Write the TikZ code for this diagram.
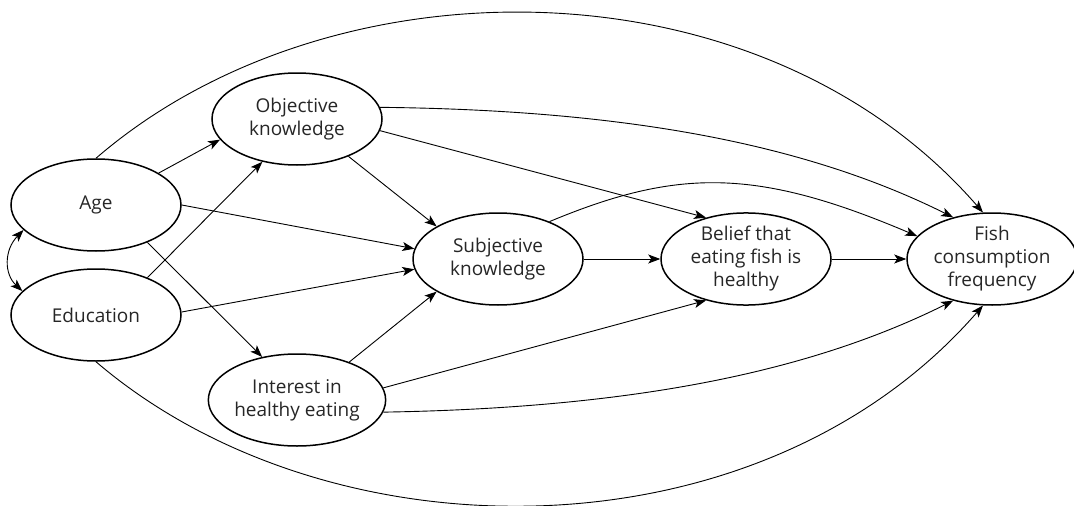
\documentclass[tikz,border=0pt]{standalone}
\usepackage{fontspec}
\setmainfont{Open Sans}
\usetikzlibrary{shapes.geometric,arrows.meta}
\begin{document}
\begin{tikzpicture}[x=1pt,y=-1pt,
  var/.style={draw, ellipse, line width=1.5pt, minimum width=170pt, minimum height=92pt, inner sep=0pt, align=center, font=\fontsize{19}{23}\selectfont, text=black!85},
  conn/.style={line width=0.9pt, -{Stealth[length=12pt,width=9pt,inset=3pt]}},
  biconn/.style={line width=0.9pt, {Stealth[length=12pt,width=9pt,inset=3pt]}-{Stealth[length=12pt,width=9pt,inset=3pt]}},
]
\useasboundingbox (0,0) rectangle (1074,506);
\node[var] (age)  at (96,205)  {Age};
\node[var] (edu)  at (96,315)  {Education};
\node[var] (obj)  at (297,119) {Objective\\knowledge};
\node[var] (int)  at (297,400) {Interest in\\healthy eating};
\node[var] (subj) at (498,259) {Subjective\\knowledge};
\node[var] (bel)  at (746,259) {Belief that\\eating fish is\\healthy};
\node[var] (fish) at (992,259) {Fish\\consumption\\frequency};

% straight paths
\draw[conn] (age.27)  -- (obj.195);
\draw[conn] (edu.36)  -- (obj.231);
\draw[conn] (age.0)   -- (subj.173);
\draw[conn] (edu.2)   -- (subj.187);
\draw[conn] (age.-36) -- (int.129);
\draw[conn] (obj.-36) -- (subj.152);
\draw[conn] (int.36)  -- (subj.208);
\draw[conn] (subj.0)  -- (bel.180);
\draw[conn] (bel.0)   -- (fish.180);
\draw[conn] (obj.-8)  -- (bel.134);
\draw[conn] (int.8)   -- (bel.226);

% curved paths
\draw[conn] (obj.8) .. controls (630,110) and (808,145) .. (fish.133);
\draw[conn] (int.-8) .. controls (630,408) and (808,373) .. (fish.227);
\draw[conn] (subj.36) .. controls (678,168) and (757,168) .. (fish.163);
\draw[conn] (age.north) .. controls (330,-44) and (760,-44) .. (fish.101);
\draw[conn] (edu.south) .. controls (330,562) and (760,562) .. (fish.259);
\draw[biconn] (age.199) .. controls (4,250) and (4,274) .. (edu.162);
\end{tikzpicture}
\end{document}
